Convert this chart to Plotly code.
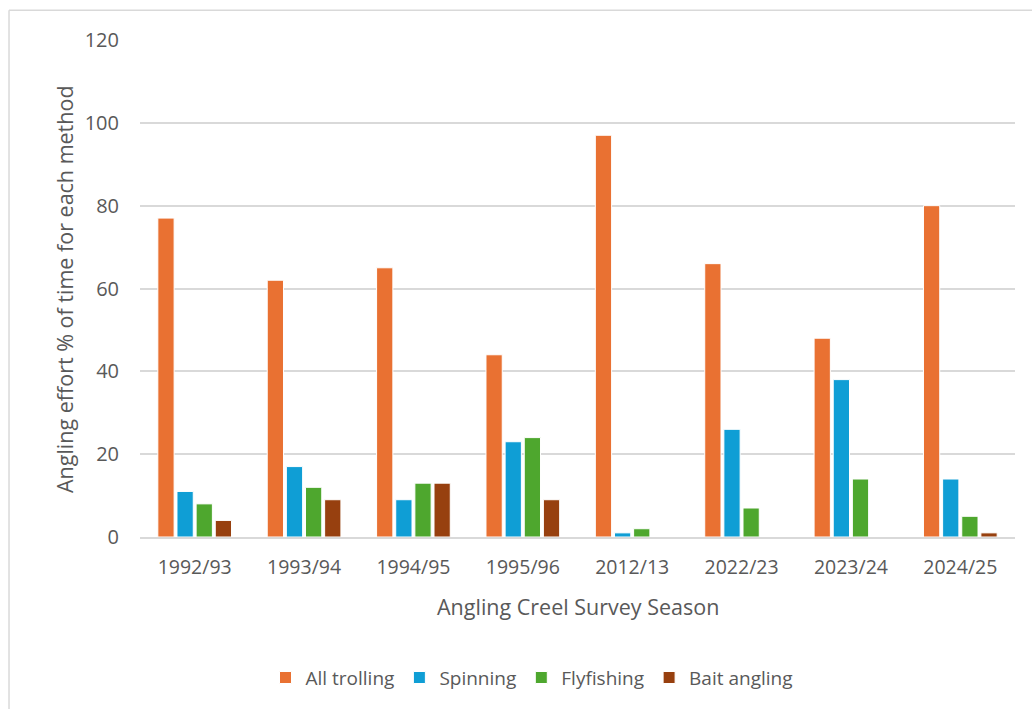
import plotly.graph_objects as go

seasons = ["1992/93", "1993/94", "1994/95", "1995/96", "2012/13", "2022/23", "2023/24", "2024/25"]
all_trolling = [77, 62, 65, 44, 97, 66, 48, 80]
spinning = [11, 17, 9, 23, 1, 26, 38, 14]
flyfishing = [8, 12, 13, 24, 2, 7, 14, 5]
bait_angling = [4, 9, 13, 9, 0, 0, 0, 1]

series = [
    ("All trolling", all_trolling, "#E97132"),
    ("Spinning", spinning, "#0F9ED5"),
    ("Flyfishing", flyfishing, "#4EA72E"),
    ("Bait angling", bait_angling, "#97400F"),
]

FONT = "Open Sans, Lato, sans-serif"
GREY = "#595959"

fig = go.Figure()
for name, vals, col in series:
    fig.add_trace(go.Bar(
        x=seasons, y=vals, name=name,
        marker=dict(color=col, line=dict(color="white", width=1)),
    ))

# plot area: x 140..1015 px, y 40..539 px
fig.update_layout(
    width=1032, height=709,
    margin=dict(l=140, r=17, t=40, b=170),
    paper_bgcolor="white", plot_bgcolor="white",
    barmode="group", bargap=0.3, bargroupgap=0.15,
    font=dict(family=FONT, size=18, color=GREY),
    showlegend=True,
    legend=dict(orientation="h", x=0.448, xanchor="center", y=-0.283, yanchor="middle",
                font=dict(size=19, color=GREY), itemwidth=30, traceorder="normal"),
    xaxis=dict(showgrid=False, showline=True, linecolor="#d9d9d9", linewidth=1.5,
               ticks="", ticklabelstandoff=12,
               tickfont=dict(size=19.5, color=GREY)),
    yaxis=dict(range=[0, 120], dtick=20, showgrid=True, gridcolor="#d9d9d9", gridwidth=1.5,
               zeroline=False, showline=False, ticks="", ticklabelstandoff=20,
               tickfont=dict(size=20, color=GREY)),
    annotations=[
        dict(text="Angling Creel Survey Season", xref="paper", yref="paper",
             x=0.5, y=-0.14, xanchor="center", yanchor="middle", showarrow=False,
             font=dict(size=21.5, color=GREY)),
        dict(text="Angling effort % of time for each method", xref="paper", yref="paper",
             x=-0.0857, y=0.499, xanchor="center", yanchor="middle", showarrow=False,
             textangle=-90, font=dict(size=21.5, color=GREY)),
    ],
    shapes=[
        # chart frame (top and left edges)
        dict(type="line", xref="paper", yref="paper",
             x0=-0.1497, x1=1.03, y0=1.0601, y1=1.0601,
             line=dict(color="#d9d9d9", width=1.5)),
        dict(type="line", xref="paper", yref="paper",
             x0=-0.1497, x1=-0.1497, y0=1.0601, y1=-0.35,
             line=dict(color="#d9d9d9", width=1.5)),
    ],
)

fig.write_html("out.html")
